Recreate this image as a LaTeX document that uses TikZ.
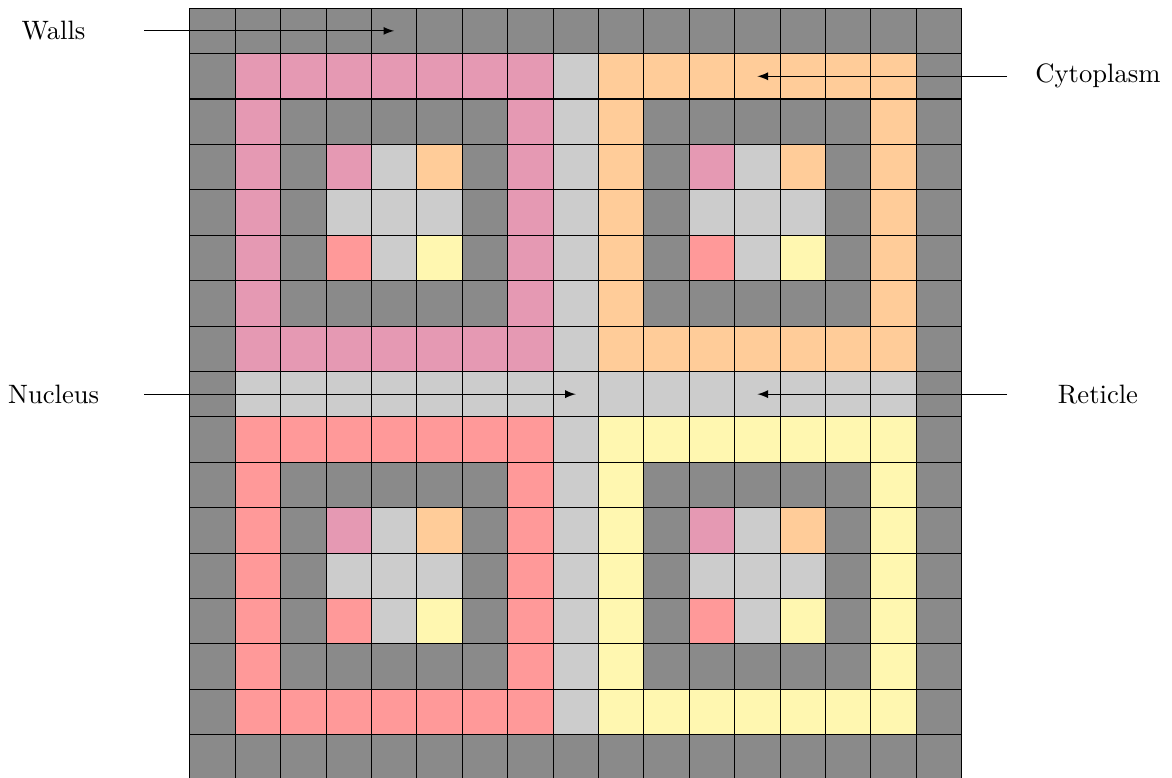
\documentclass[tikz,border=0pt]{standalone}
\usepackage{xcolor}
\usepackage{tikz}
\usetikzlibrary{arrows.meta}

\definecolor{wallgray}{HTML}{8A8A8A}
\definecolor{reticlegray}{HTML}{CCCCCC}
\definecolor{pinkcell}{HTML}{E599B3}
\definecolor{orangecell}{HTML}{FFCC99}
\definecolor{redcell}{HTML}{FF9999}
\definecolor{yellowcell}{HTML}{FFF7B0}

\begin{document}
\begin{tikzpicture}[
    x=0.6cm, y=0.6cm,
    tag/.style={font=\normalsize, inner sep=2pt},
    arrow/.style={-latex, line width=0.4pt, draw=black}
]
    \useasboundingbox (-4.18,0.18) rectangle (21.63,-16.95);

    % walls everywhere, then the reticle cross
    \fill[wallgray] (0,0) rectangle (17,-17);
    \fill[reticlegray] (8,-1) rectangle (9,-16);
    \fill[reticlegray] (1,-8) rectangle (16,-9);

    % four chambers: x offset / y offset / ring colour
    \foreach \ox/\oy/\col in {1/1/pinkcell, 9/1/orangecell, 1/9/redcell, 9/9/yellowcell} {
        \fill[\col] (\ox,-\oy) rectangle ++(7,-7);
        \fill[wallgray] (\ox+1,-\oy-1) rectangle ++(5,-5);
        \fill[reticlegray] (\ox+2,-\oy-2) rectangle ++(3,-3);
        \fill[pinkcell] (\ox+2,-\oy-2) rectangle ++(1,-1);
        \fill[orangecell] (\ox+4,-\oy-2) rectangle ++(1,-1);
        \fill[redcell] (\ox+2,-\oy-4) rectangle ++(1,-1);
        \fill[yellowcell] (\ox+4,-\oy-4) rectangle ++(1,-1);
    }
    \draw[step=1] (0,0) grid (17,-17);

    % labels
    \node[tag] (walls) at (-3,-0.5) {Walls};
    \node[tag] (cytoplasm) at (20,-1.5) {Cytoplasm};
    \node[tag] (nucleus) at (-3,-8.5) {Nucleus};
    \node[tag] (reticle) at (20,-8.5) {Reticle};

    \coordinate (walls-tail) at (-1,-0.5);
    \coordinate (walls-tip) at (4.5,-0.5);
    \coordinate (cytoplasm-tail) at (18,-1.5);
    \coordinate (cytoplasm-tip) at (12.5,-1.5);
    \coordinate (nucleus-tail) at (-1,-8.5);
    \coordinate (nucleus-tip) at (8.5,-8.5);
    \coordinate (reticle-tail) at (18,-8.5);
    \coordinate (reticle-tip) at (12.5,-8.5);

    \draw[arrow] (walls-tail) -- (walls-tip);
    \draw[arrow] (cytoplasm-tail) -- (cytoplasm-tip);
    \draw[arrow] (nucleus-tail) -- (nucleus-tip);
    \draw[arrow] (reticle-tail) -- (reticle-tip);
\end{tikzpicture}
\end{document}
